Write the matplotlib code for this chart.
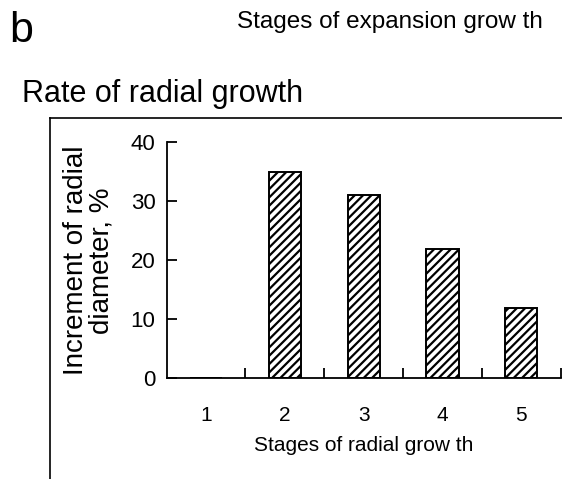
import matplotlib
matplotlib.use("Agg")
import matplotlib.pyplot as plt
from matplotlib.lines import Line2D

plt.rcParams['font.family'] = ['Liberation Sans', 'DejaVu Sans']
plt.rcParams['hatch.linewidth'] = 1.6

stages = ['1', '2', '3', '4', '5']
increment = [0, 35, 31, 22, 12]
yticks = [0, 10, 20, 30, 40]

fig = plt.figure(figsize=(5.62, 4.79), dpi=100)
ax = fig.add_axes([0.2966, 0.2102, 0.7011, 0.4927])

x = list(range(len(stages)))
ax.bar(x, increment, width=0.41, facecolor='white', edgecolor='black',
       linewidth=1.4, hatch='////')

ax.set_xlim(-0.5, 4.5)
ax.set_ylim(0, 40)
ax.set_yticks(yticks)
ax.set_yticklabels([str(v) for v in yticks], fontsize=16)
ax.set_xticks(x)
ax.set_xticklabels(stages, fontsize=15)
ax.tick_params(axis='x', length=0, pad=20)
ax.set_xticks([i + 0.5 for i in x], minor=True)
ax.tick_params(axis='x', which='minor', direction='in', length=7, width=1.3)
ax.tick_params(axis='y', direction='in', length=7, width=1.3, pad=8)

for s in ['top', 'right']:
    ax.spines[s].set_visible(False)
for s in ['left', 'bottom']:
    ax.spines[s].set_linewidth(1.3)

ax.set_xlabel('Stages of radial grow th', fontsize=15, labelpad=8)
ax.set_ylabel('Increment of radial\ndiameter, %', fontsize=20, labelpad=12,
              linespacing=0.95)

# outer frame lines
fig.add_artist(Line2D([50/562, 1.0], [1 - 117.5/479, 1 - 117.5/479],
                      transform=fig.transFigure, color='black', lw=1.2))
fig.add_artist(Line2D([49.5/562, 49.5/562], [0, 1 - 117.5/479],
                      transform=fig.transFigure, color='black', lw=1.2))

fig.text(9/562, 1 - 42/479, 'b', fontsize=31, ha='left', va='baseline')
fig.text(543/562, 1 - 28/479, 'Stages of expansion grow th', fontsize=17.5,
         ha='right', va='baseline')
fig.text(22/562, 1 - 102/479, 'Rate of radial growth', fontsize=22,
         ha='left', va='baseline')

fig.savefig('out.png', dpi=100)
